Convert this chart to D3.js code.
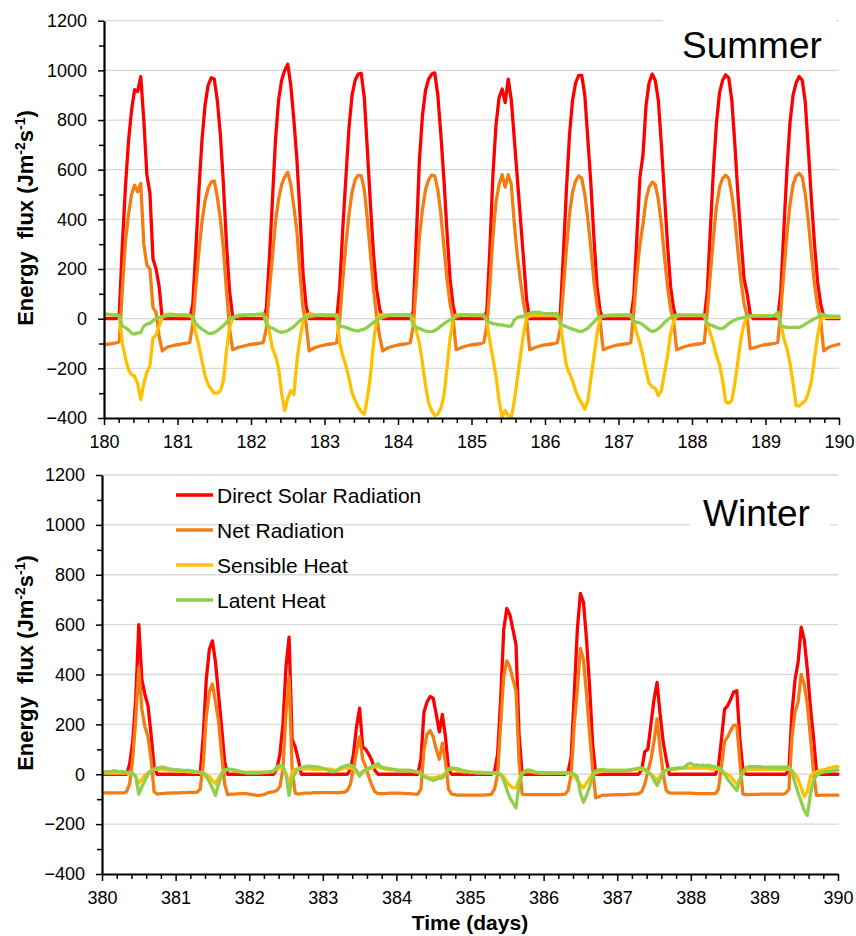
<!DOCTYPE html>
<html>
<head>
<meta charset="utf-8">
<script src="https://cdn.jsdelivr.net/npm/d3@7"></script>
<style>
  body { margin: 0; background: #fff; }
  svg { display: block; font-family: "Liberation Sans", Arial, sans-serif; }
</style>
</head>
<body>
<svg id="chart" width="856" height="936"></svg>
<script>
// Hourly energy-flux values (J m-2 s-1), one row per day, last value closes the period.
const yTicks = [-400, -200, 0, 200, 400, 600, 800, 1000, 1200];
const yMinorTicks = [-300, -100, 100, 300, 500, 700, 900, 1100];
const summerXTicks = [180, 181, 182, 183, 184, 185, 186, 187, 188, 189, 190];
const winterXTicks = [380, 381, 382, 383, 384, 385, 386, 387, 388, 389, 390];
const seriesNames = ["Direct Solar Radiation", "Net Radiation", "Sensible Heat", "Latent Heat"];

const summerSolar = [
  0,0,0,0,0,20,300,530,715,840,922,915,975,800,580,505,240,200,130,0,0,0,0,0,
  0,0,0,0,0,60,280,520,720,860,940,970,965,880,740,540,300,110,10,0,0,0,0,0,
  0,0,0,0,0,40,240,480,720,880,960,1000,1025,940,800,640,420,180,50,0,0,0,0,0,
  0,0,0,0,0,130,370,570,770,900,960,985,988,890,680,460,260,120,40,0,0,0,0,0,
  0,0,0,0,0,30,330,640,820,920,965,985,990,900,740,560,350,160,50,0,0,0,0,0,
  0,0,0,0,0,30,280,580,780,890,925,870,965,880,720,560,400,240,75,0,0,0,0,0,
  0,0,0,0,0,20,260,520,740,880,950,980,980,900,720,540,320,130,30,0,0,0,0,0,
  0,0,0,0,0,90,330,570,660,860,950,985,960,880,700,500,300,130,40,0,0,0,0,0,
  0,0,0,0,0,110,360,600,790,910,960,982,970,880,700,500,320,160,100,20,0,0,0,0,
  0,0,0,0,0,110,360,600,790,900,950,975,960,870,680,480,300,150,60,10,0,0,0,0,
  0
];
const summerNet = [
  -105,-103,-101,-99,-97,-93,120,310,420,500,538,511,545,300,215,200,45,25,-70,-130,-120,-113,-110,-107,
  -105,-103,-100,-98,-96,-20,130,270,390,475,525,550,555,490,400,280,110,-40,-125,-120,-115,-112,-109,-106,
  -104,-102,-100,-98,-96,-40,110,250,390,480,540,570,590,540,450,350,180,40,-20,-130,-122,-116,-112,-109,
  -106,-104,-102,-100,-97,0,160,300,420,510,560,578,575,520,400,260,120,10,-70,-130,-122,-116,-112,-109,
  -106,-104,-102,-100,-97,-30,140,330,440,520,560,578,575,520,420,290,160,60,0,-125,-120,-115,-111,-108,
  -106,-104,-102,-100,-97,-30,130,330,470,540,580,530,580,540,380,250,150,60,0,-125,-120,-115,-111,-108,
  -106,-104,-102,-100,-97,-40,120,280,420,510,555,575,565,500,400,280,150,50,-10,-125,-120,-115,-111,-108,
  -106,-104,-102,-100,-97,30,180,300,380,480,530,550,540,480,380,250,130,40,-10,-125,-120,-115,-111,-108,
  -106,-104,-102,-100,-97,30,180,330,450,530,565,578,565,500,400,270,150,60,10,-120,-118,-114,-110,-107,
  -105,-103,-101,-99,-96,30,190,340,460,540,575,585,570,500,390,260,140,50,0,-130,-120,-113,-109,-106,
  -103
];
const summerSensible = [
  15,15,15,15,15,10,-100,-160,-205,-225,-232,-262,-325,-260,-215,-190,-78,-65,-30,5,15,18,18,15,
  12,12,12,12,10,5,-60,-110,-170,-230,-265,-285,-300,-300,-290,-250,-130,-35,0,10,15,15,15,15,
  15,15,15,15,15,0,-50,-120,-150,-200,-300,-370,-320,-290,-305,-170,-80,-10,15,20,18,15,15,15,
  12,12,12,12,10,-100,-150,-190,-240,-300,-330,-355,-375,-385,-320,-230,-100,0,15,15,15,15,15,15,
  15,15,15,15,15,0,-50,-100,-180,-270,-340,-370,-390,-385,-360,-310,-200,-80,0,15,15,15,15,15,
  12,12,12,12,10,-10,-90,-160,-230,-330,-398,-370,-390,-398,-330,-240,-150,-60,5,10,12,12,12,12,
  12,12,12,12,10,-20,-110,-190,-220,-250,-290,-320,-340,-365,-330,-240,-150,-60,5,10,12,12,12,12,
  12,12,12,12,10,-10,-60,-100,-150,-210,-260,-275,-280,-310,-290,-220,-150,-60,-10,10,12,12,12,12,
  12,12,12,12,10,-20,-60,-100,-150,-185,-250,-335,-340,-330,-260,-170,-80,-20,5,10,12,12,12,12,
  12,12,12,12,10,-20,-80,-120,-180,-260,-350,-352,-340,-330,-300,-250,-160,-70,-5,5,5,5,5,5,
  5
];
const summerLatent = [
  18,18,16,15,14,10,-30,-36,-45,-58,-62,-58,-55,-30,-22,-18,-8,0,5,8,10,12,14,15,
  15,15,15,15,15,5,-20,-33,-42,-50,-58,-60,-56,-48,-38,-28,-15,0,5,8,10,12,14,15,
  15,15,18,18,20,-20,-35,-38,-45,-52,-55,-52,-48,-40,-32,-20,-8,0,5,8,10,12,14,15,
  15,15,15,15,15,-30,-32,-35,-40,-45,-48,-50,-45,-42,-35,-25,-15,-5,0,5,10,12,14,15,
  15,15,15,15,15,-30,-35,-40,-45,-50,-52,-52,-48,-40,-30,-20,-12,-5,0,8,12,15,15,15,
  15,15,15,15,15,-10,-15,-20,-22,-25,-25,-28,-30,-30,-5,5,8,10,18,22,25,25,25,22,
  20,20,20,20,20,-20,-28,-32,-38,-42,-46,-50,-52,-45,-39,-25,-13,0,7,10,12,14,15,15,
  15,15,15,15,15,-10,-15,-17,-25,-35,-45,-52,-48,-40,-30,-15,-5,5,10,15,15,15,15,15,
  15,15,15,15,15,-20,-25,-30,-35,-40,-40,-30,-20,-12,-5,0,2,5,10,10,10,10,10,10,
  10,10,10,15,25,-30,-32,-35,-35,-35,-35,-35,-30,-22,-15,-8,0,5,20,15,12,10,10,10,
  10
];

const winterSolar = [
  0,0,0,0,0,0,0,0,0,40,130,300,600,380,320,275,160,30,0,0,0,0,0,0,
  0,0,0,0,0,0,0,0,0,150,380,500,535,450,320,190,50,0,0,0,0,0,0,0,
  0,0,0,0,0,0,0,0,0,20,80,200,430,550,140,110,60,0,0,0,0,0,0,0,
  0,0,0,0,0,0,0,0,0,20,80,190,265,110,100,80,55,15,0,0,0,0,0,0,
  0,0,0,0,0,0,0,0,60,250,290,312,305,240,170,240,150,20,0,0,0,0,0,0,
  0,0,0,0,0,0,0,0,10,80,300,580,665,640,580,520,160,0,0,0,0,0,0,0,
  0,0,0,0,0,0,0,0,10,70,320,580,725,690,540,350,120,0,0,0,0,0,0,0,
  0,0,0,0,0,0,0,0,20,90,100,200,300,368,240,130,60,0,0,0,0,0,0,0,
  0,0,0,0,0,0,0,0,0,30,140,260,275,300,330,335,140,20,0,0,0,0,0,0,
  0,0,0,0,0,0,0,0,20,250,380,450,590,540,420,270,150,10,0,0,0,0,0,0,
  0
];
const winterNet = [
  -75,-75,-75,-75,-75,-75,-75,-75,-70,-40,60,220,425,260,190,150,60,-70,-80,-78,-78,-76,-76,-75,
  -75,-75,-74,-74,-73,-73,-73,-72,-60,40,230,330,362,290,215,80,-40,-82,-80,-80,-79,-78,-78,-78,
  -80,-82,-84,-85,-84,-80,-75,-72,-70,-65,-50,20,250,390,20,-75,-80,-78,-76,-76,-76,-74,-74,-74,
  -74,-74,-74,-74,-74,-74,-73,-72,-65,-40,20,90,150,60,30,-10,-45,-70,-78,-78,-78,-77,-76,-76,
  -76,-76,-77,-78,-78,-79,-80,-80,-60,100,160,175,150,100,60,125,50,-60,-80,-82,-84,-84,-84,-84,
  -84,-84,-84,-84,-84,-83,-83,-80,-60,0,200,392,455,430,380,335,50,-80,-82,-82,-82,-82,-82,-82,
  -82,-82,-82,-82,-82,-82,-81,-80,-65,0,200,340,505,460,320,165,20,-95,-90,-85,-84,-84,-83,-83,
  -82,-82,-82,-82,-81,-80,-80,-78,-70,-40,10,60,130,222,100,0,-65,-75,-76,-76,-76,-76,-76,-76,
  -76,-77,-78,-78,-78,-78,-78,-78,-78,-60,30,130,150,175,197,197,50,-80,-82,-82,-82,-81,-81,-80,
  -80,-80,-80,-80,-80,-80,-80,-75,-60,150,250,290,400,360,280,150,10,-85,-85,-84,-84,-84,-84,-84,
  -84
];
const winterSensible = [
  5,5,5,5,5,5,5,5,5,5,0,-10,-35,-20,-5,5,15,20,20,20,20,18,15,15,
  12,12,12,12,10,10,8,8,5,5,0,-10,-25,-38,-15,5,15,20,18,15,12,10,8,8,
  8,8,8,8,8,8,10,12,15,20,25,25,0,-40,10,20,20,22,22,22,22,20,20,20,
  20,20,20,20,15,15,20,25,25,25,20,10,0,10,15,20,25,30,30,25,22,20,18,18,
  15,15,15,15,15,12,10,10,0,-5,-10,-15,-15,-12,-8,-5,5,20,20,20,15,12,10,10,
  8,8,8,8,8,6,5,5,5,3,0,-10,-30,-45,-55,-55,-20,5,10,12,10,8,6,5,
  5,5,5,5,5,5,5,5,5,0,-10,-25,-40,-55,-35,-15,0,5,10,12,15,15,15,15,
  15,15,15,15,15,18,20,20,20,15,10,0,-10,-25,-5,10,15,20,20,20,22,25,25,25,
  25,25,25,25,25,25,22,22,22,20,15,5,0,-10,-25,-40,-20,5,20,20,20,20,20,20,
  20,20,20,20,20,20,20,20,20,15,0,-20,-55,-90,-70,-10,5,10,15,18,20,25,28,30,
  30
];
const winterLatent = [
  8,10,10,12,15,12,10,10,8,8,5,-10,-80,-50,-25,0,12,20,25,28,28,25,22,20,
  18,18,16,15,15,14,12,10,8,5,-10,-30,-55,-85,-40,0,18,20,20,18,15,12,8,5,
  5,5,5,5,6,8,8,10,10,30,35,33,0,-85,-20,5,22,28,30,32,32,30,30,28,
  24,20,15,10,12,20,28,32,37,36,30,15,-8,10,18,25,30,38,42,30,25,24,22,20,
  18,16,15,15,15,15,12,10,0,-10,-15,-20,-25,-20,-15,-15,0,20,25,24,22,18,15,12,
  10,8,6,5,5,5,5,5,5,5,0,-25,-60,-95,-115,-135,-40,0,13,18,15,10,8,6,
  6,6,6,5,5,5,5,5,5,5,0,-10,-76,-112,-85,-50,-5,13,18,20,18,15,15,15,
  15,15,15,15,18,20,22,25,25,20,10,0,-25,-45,-20,5,18,20,22,24,25,25,28,40,
  44,35,38,35,37,35,35,33,30,28,20,0,-20,-35,-50,-65,-25,8,28,30,30,30,30,30,
  28,28,28,28,28,28,28,28,28,10,-35,-75,-110,-145,-165,-80,-25,-5,3,7,10,12,14,16,
  17
];

const colors = ["#ff0000", "#f47c14", "#ffc000", "#8fcf4c"];

const panels = [
  {
    key: "summer", start: 180, xTicks: summerXTicks,
    series: [summerSolar, summerNet, summerSensible, summerLatent],
    left: 104, right: 839, top: 20.7, bottom: 418,
    title: "Summer", titleX: 682, titleY: 58,
    mask: { x: 663, y: 6, w: 173, h: 60 },
    yTitleY: 218, legend: false
  },
  {
    key: "winter", start: 380, xTicks: winterXTicks,
    series: [winterSolar, winterNet, winterSensible, winterLatent],
    left: 102, right: 838, top: 475, bottom: 874,
    title: "Winter", titleX: 703, titleY: 525.5,
    mask: { x: 690, y: 490, w: 140, h: 44 },
    yTitleY: 663, legend: true
  }
];

const svg = d3.select("#chart");
svg.append("rect").attr("width", 856).attr("height", 936).attr("fill", "#fff");

panels.forEach(p => {
  const x = d3.scaleLinear().domain([p.start, p.start + 10]).range([p.left, p.right]);
  const y = d3.scaleLinear().domain([-400, 1200]).range([p.bottom, p.top]);
  const g = svg.append("g").attr("class", p.key);

  // horizontal gridlines
  g.append("g").selectAll("line")
    .data(yTicks.filter(v => v > -400))
    .join("line")
    .attr("x1", p.left).attr("x2", p.right)
    .attr("y1", d => y(d)).attr("y2", d => y(d))
    .attr("stroke", "#d9d9d9").attr("stroke-width", 1.3);

  // white box behind the season label
  g.append("rect")
    .attr("x", p.mask.x).attr("y", p.mask.y)
    .attr("width", p.mask.w).attr("height", p.mask.h)
    .attr("fill", "#fff");

  g.append("text")
    .attr("x", p.titleX).attr("y", p.titleY)
    .attr("font-size", 37).attr("fill", "#000")
    .text(p.title);

  // data lines
  const clipId = "clip-" + p.key;
  g.append("clipPath").attr("id", clipId)
    .append("rect")
    .attr("x", p.left).attr("y", p.top - 4)
    .attr("width", p.right - p.left + 3).attr("height", p.bottom - p.top + 4);

  const line = d3.line()
    .x((d, i) => x(p.start + i / 24))
    .y(d => y(d));

  const lines = g.append("g").attr("clip-path", `url(#${clipId})`);
  p.series.forEach((values, k) => {
    lines.append("path")
      .datum(values)
      .attr("d", line)
      .attr("fill", "none")
      .attr("stroke", colors[k])
      .attr("stroke-width", 3.3)
      .attr("stroke-linejoin", "round")
      .attr("stroke-linecap", "round");
  });

  // y axis: minor ticks, then labelled major ticks
  g.append("g")
    .attr("transform", `translate(${p.left},0)`)
    .call(d3.axisLeft(y).tickValues(yMinorTicks).tickSize(5).tickFormat(""))
    .call(a => a.select(".domain").remove())
    .call(a => a.selectAll("line").attr("stroke", "#000").attr("stroke-width", 1.5));

  const yAxis = g.append("g")
    .attr("transform", `translate(${p.left},0)`)
    .call(d3.axisLeft(y).tickValues(yTicks).tickSize(6).tickSizeOuter(0).tickPadding(11).tickFormat(d3.format("d")));
  yAxis.select(".domain").attr("stroke", "#000").attr("stroke-width", 2.2);
  yAxis.selectAll("line").attr("stroke", "#000").attr("stroke-width", 1.5);
  yAxis.selectAll("text")
    .attr("font-size", 18).attr("fill", "#000")
    .attr("font-family", "Liberation Sans, Arial, sans-serif");

  // x axis: ticks every 0.2 day, labels on whole days
  const minorX = d3.range(0, 51).map(i => p.start + i * 0.2).filter((v, i) => i % 5 !== 0);
  g.append("g")
    .attr("transform", `translate(0,${p.bottom})`)
    .call(d3.axisBottom(x).tickValues(minorX).tickSize(5).tickFormat(""))
    .call(a => a.select(".domain").remove())
    .call(a => a.selectAll("line").attr("stroke", "#000").attr("stroke-width", 1.5));

  const xAxis = g.append("g")
    .attr("transform", `translate(0,${p.bottom})`)
    .call(d3.axisBottom(x).tickValues(p.xTicks).tickSize(7).tickSizeOuter(0).tickPadding(10).tickFormat(d3.format("d")));
  xAxis.select(".domain").attr("stroke", "#000").attr("stroke-width", 2.2);
  xAxis.selectAll("line").attr("stroke", "#000").attr("stroke-width", 1.5);
  xAxis.selectAll("text")
    .attr("font-size", 18).attr("fill", "#000")
    .attr("font-family", "Liberation Sans, Arial, sans-serif");

  // y axis title
  const yt = g.append("text")
    .attr("transform", `translate(33,${p.yTitleY}) rotate(-90)`)
    .attr("text-anchor", "middle")
    .attr("font-size", 22).attr("font-weight", "bold").attr("fill", "#000")
    .style("white-space", "pre");
  yt.append("tspan").text("Energy  flux (Jm");
  yt.append("tspan").attr("font-size", 14).attr("dy", -8).text("-2");
  yt.append("tspan").attr("dy", 8).text("s");
  yt.append("tspan").attr("font-size", 14).attr("dy", -8).text("-1");
  yt.append("tspan").attr("dy", 8).text(")");

  if (p.legend) {
    const lg = g.append("g");
    seriesNames.forEach((name, k) => {
      const ly = 495 + k * 35;
      lg.append("line")
        .attr("x1", 176).attr("x2", 213).attr("y1", ly).attr("y2", ly)
        .attr("stroke", colors[k]).attr("stroke-width", 3.6);
      lg.append("text")
        .attr("x", 217).attr("y", ly + 7.6)
        .attr("font-size", 21).attr("fill", "#000")
        .text(name);
    });
  }
});

// x axis title
svg.append("text")
  .attr("x", 470).attr("y", 930)
  .attr("text-anchor", "middle")
  .attr("font-size", 21).attr("font-weight", "bold").attr("fill", "#000")
  .text("Time (days)");
</script>
</body>
</html>
